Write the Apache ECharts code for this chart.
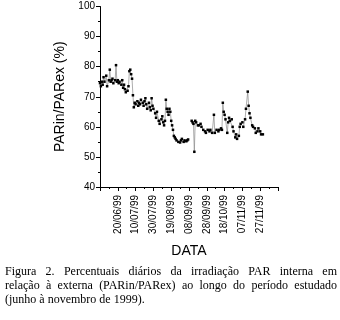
<!DOCTYPE html>
<html><head><meta charset="utf-8">
<script src="https://cdn.jsdelivr.net/npm/echarts@6/dist/echarts.min.js"></script>
<style>html,body{margin:0;padding:0;background:#fff}#c{width:340px;height:320px}</style>
</head><body><div id="c"></div>
<script>
// day 0 = 31/05/1999
const tickLabels = ["20/06/99","10/07/99","30/07/99","19/08/99","08/09/99","28/09/99","18/10/99","07/11/99","27/11/99"];
const daysA = [0,1,2,3,4,5,7,8,10,11,12,13,14,15,17,18,19,20,21,22,24,25,26,27,28,29,31,32,33,34,35,36,37,38,39,40,42,43,44,45,46,48,49,50,51,52,53,55,56,57,58,59,60,62,63,64,66,67,69,70,71,72,73,74,75,76,77,78,79,80,81,82,83,84,85,86,88,90,91,92,94,95,97,98,99];
const valuesA = [74.5,73.5,75,74,76.5,75,77,73.5,75.5,79,75,75.5,76,74.5,75.5,80.5,75,75.5,74.5,75,74,75.5,73,74,72.5,71.5,72,73.5,78.5,79,77.5,76,70.5,66.5,68,67.5,68.5,67,68,67.5,69,68,67,68.5,69.5,67.5,66,68,66.5,65.5,69.5,67,66,64.5,63,65,62,61,62.5,63.5,61.5,60.5,62,69,66,65,64,66,65,62,60.5,59,57,56.5,56,55.5,55,54.8,55.5,56,55,55.5,55.2,55.5,55.8];
const daysB = [103,104,105,106,107,108,110,111,113,114,116,118,119,121,123,124,126,128,129,131,133,134,136,137,138,139,140,141,143,144,145,146,148,149,150,152,153,154,156,157,158,160,161,163,164,166,167,168,169,171,172,174,175,177,178,180,181,183];
const valuesB = [62,61.5,61,51.7,62,61.5,60.5,60.5,61,60,59,58.5,58,59,58.5,59,58,64,58,59,58.5,59,59.5,59,68,65,64,62.5,58,61.5,63,62,62.5,60,58.5,56.5,57.5,56,57,60,61,61.5,60,62.5,66,71.7,67,64.5,63,60.5,60,59.5,58,58.5,59.5,58.5,57.5,57.5];
const captionLines = [
  "Figura 2. Percentuais diários da irradiação PAR interna em",
  "relação à externa (PARin/PARex) ao longo do período estudado",
  "(junho à novembro de 1999)."
];

const data = daysA.map((d,i)=>[d,valuesA[i]]).concat([[101,'-']]).concat(daysB.map((d,i)=>[d,valuesB[i]]));

// caption layout (justified first lines)
const capFont = "12px 'Liberation Serif'";
const ctx = document.createElement('canvas').getContext('2d');
ctx.font = capFont;
const capLeft = 5, capRight = 337, capY = [273, 287, 301];
const graphics = [];
captionLines.forEach((line, li) => {
  const words = line.split(' ');
  if (li < captionLines.length - 1) {
    const widths = words.map(w => ctx.measureText(w).width);
    const total = widths.reduce((a,b)=>a+b,0);
    const gap = (capRight - capLeft - total) / (words.length - 1);
    let x = capLeft;
    words.forEach((w, wi) => {
      graphics.push({type:'text', left:x, top:capY[li]-7, style:{text:w, font:capFont, fill:'#000'}});
      x += widths[wi] + gap;
    });
  } else {
    graphics.push({type:'text', left:capLeft, top:capY[li]-7, style:{text:line, font:capFont, fill:'#000'}});
  }
});

const chart = echarts.init(document.getElementById('c'), null, {renderer:'canvas'});
const axisFont = {fontFamily:'Liberation Sans', fontSize:10, color:'#000'};
chart.setOption({
  animation:false,
  backgroundColor:'#fff',
  grid:{left:100, top:6.5, width:178, height:180.5, containLabel:false},
  xAxis:{
    type:'value', min:0, max:200, interval:20,
    name:'DATA', nameLocation:'middle', nameGap:57,
    nameTextStyle:{fontFamily:'Liberation Sans', fontSize:14, color:'#000'},
    axisLine:{show:true, lineStyle:{color:'#000', width:1}},
    axisTick:{show:true, length:4, lineStyle:{color:'#000'}},
    minorTick:{show:true, splitNumber:2, length:2, lineStyle:{color:'#000'}},
    splitLine:{show:false},
    axisLabel:Object.assign({rotate:90, margin:8, formatter:v => (v>0 && v<200) ? tickLabels[v/20-1] : ''}, axisFont)
  },
  yAxis:{
    type:'value', min:40, max:100, interval:10,
    name:'PARin/PARex (%)', nameLocation:'middle', nameGap:26,
    nameTextStyle:{fontFamily:'Liberation Sans', fontSize:14, color:'#000'},
    axisLine:{show:true, lineStyle:{color:'#000', width:1}},
    axisTick:{show:true, length:4, lineStyle:{color:'#000'}},
    minorTick:{show:true, splitNumber:2, length:2, lineStyle:{color:'#000'}},
    splitLine:{show:false},
    axisLabel:Object.assign({margin:5}, axisFont)
  },
  series:[{
    type:'line', data:data, connectNulls:false,
    symbol:'rect', symbolSize:2.5, showSymbol:true,
    itemStyle:{color:'#000'},
    lineStyle:{color:'#8a8a8a', width:0.7}
  }],
  graphic:graphics
});
</script></body></html>
